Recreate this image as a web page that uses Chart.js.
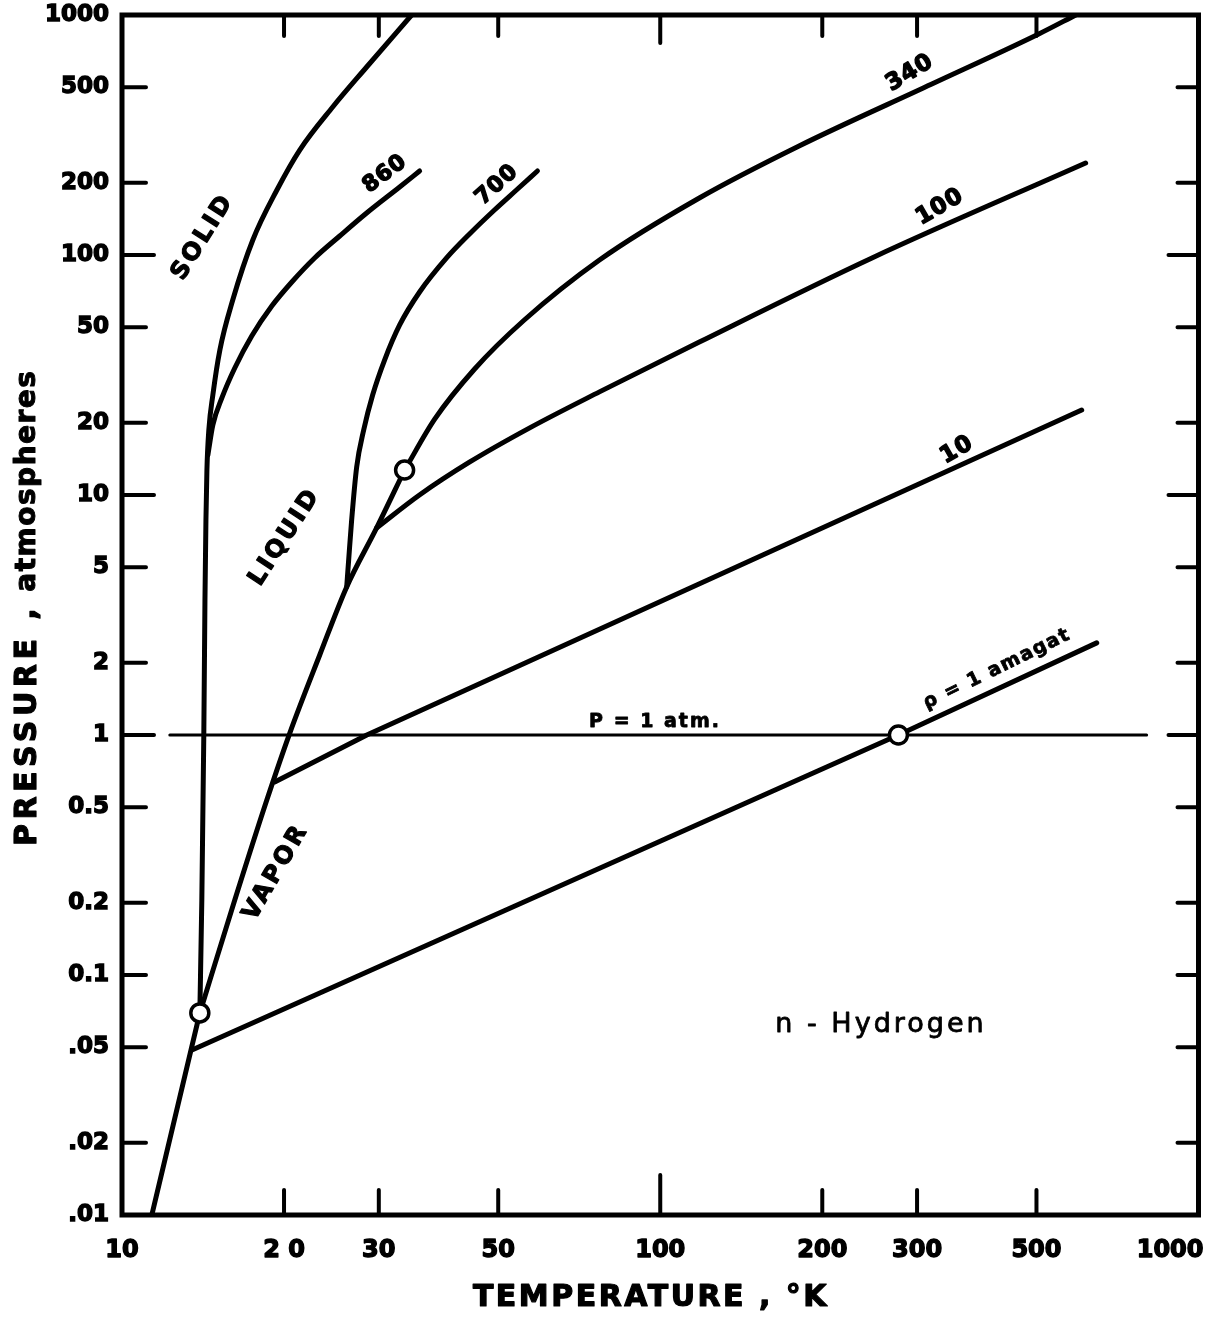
<!DOCTYPE html>
<html>
<head>
<meta charset="utf-8">
<title>n-Hydrogen phase diagram</title>
<script src="https://cdn.jsdelivr.net/npm/chart.js@4.4.1/dist/chart.umd.min.js"></script>
<style>
    html, body { margin: 0; padding: 0; background: #fff; }
    #wrap { width: 1211px; height: 1321px; }
</style>
</head>
<body>
<div id="wrap"><canvas id="phaseChart" width="1211" height="1321"></canvas></div>
<script>
// axis ticks
const tempTicks = [10, 20, 30, 50, 100, 200, 300, 500, 1000];
const tempTickLabels = ['10', '2 0', '30', '50', '100', '200', '300', '500', '1000'];
const pressTicks = [0.01, 0.02, 0.05, 0.1, 0.2, 0.5, 1, 2, 5, 10, 20, 50, 100, 200, 500, 1000];
const pressTickLabels = ['.01', '.02', '.05', '0.1', '0.2', '0.5', '1', '2', '5', '10', '20', '50', '100', '200', '500', '1000'];

// melting curve (solid / liquid), from the triple point up
const meltingT = [13.95, 14.07, 14.19, 14.26, 14.32, 14.38, 14.5, 14.75, 15.2, 16.06, 17.5, 19.4, 21.39, 24.63, 28.48, 34.52];
const meltingP = [0.0695, 0.205, 1, 3.65, 7.87, 12.7, 18.7, 26.1, 40.2, 64.9, 115.5, 186.6, 273.8, 413.7, 607.2, 1000];

// sublimation curve, below the triple point
const sublimT = [11.36, 13.95];
const sublimP = [0.01, 0.0695];

// vapour pressure curve, triple point to critical point
const vaporT = [13.95, 16.2, 18.58, 20.5, 23.3, 26.15, 29.72, 33.5];
const vaporP = [0.0695, 0.2054, 0.536, 1.019, 2.154, 4.14, 7.29, 12.71];

// isochores, density in amagat
const iso860T = [14.44, 14.75, 15.33, 16.2, 17.42, 18.98, 20.68, 22.8, 25.38, 28.48, 32.8, 35.72];
const iso860P = [14.68, 19.57, 25.37, 33.82, 45.97, 61.3, 77.2, 97.2, 120, 149.6, 192, 223.9];

const iso700T = [26.15, 26.37, 26.71, 27.29, 28.12, 29.22, 30.75, 32.8, 35.72, 40.09, 44.22, 49.2, 54.06, 59.13];
const iso700P = [4.14, 5.36, 7.87, 13.08, 18.66, 26.1, 36.5, 51.1, 70.1, 97.2, 122.3, 154, 186.6, 223.9];

const iso340T = [33.5, 38.1, 45.2, 55.9, 77.1, 118.2, 181.1, 319.6, 504.9, 591.3];
const iso340P = [12.7, 20.7, 33.5, 53.6, 95.3, 172.8, 284.6, 515.8, 833.6, 1000];

const iso100T = [29.72, 35.7, 44.2, 57.1, 77.1, 118.2, 247.4, 617];
const iso100P = [7.29, 10.0, 13.7, 19.0, 26.9, 43.4, 97.2, 241.7];

const iso10T = [19.22, 28.5, 606.7];
const iso10P = [0.637, 1.0, 22.6];

const iso1T = [13.49, 277, 647];
const iso1P = [0.0487, 1.0, 2.42];

// P = 1 atm reference line
const atmT = [12.27, 801];
const atmP = [1, 1];

// marked points: triple point, critical point, 1 amagat at 1 atm
const markT = [13.95, 33.5, 277];
const markP = [0.0695, 12.71, 1.0];

function pairs(xs, ys) {
    return xs.map((x, i) => ({ x, y: ys[i] }));
}

function curve(xs, ys, width, smooth) {
    return {
        data: pairs(xs, ys),
        showLine: true,
        borderColor: '#000',
        backgroundColor: '#000',
        borderWidth: width,
        pointRadius: 0,
        tension: smooth ? 0.4 : 0,
        cubicInterpolationMode: smooth ? 'monotone' : 'default',
        borderCapStyle: 'round',
        borderJoinStyle: 'round',
        order: 1,
    };
}

const FONT = '"DejaVu Sans", sans-serif';

// filled text with a thin outline, to get the heavy stencil look
function inkText(ctx, text, x, y, stroke) {
    if (stroke) {
        ctx.lineWidth = stroke;
        ctx.lineJoin = 'round';
        ctx.strokeStyle = '#000';
        ctx.strokeText(text, x, y);
    }
    ctx.fillText(text, x, y);
}

function drawText(ctx, text, x, y, angle, font, spacing, stroke) {
    ctx.save();
    ctx.translate(x, y);
    ctx.rotate(angle * Math.PI / 180);
    ctx.font = font;
    ctx.letterSpacing = spacing || '0px';
    ctx.textAlign = 'center';
    ctx.textBaseline = 'middle';
    ctx.fillStyle = '#000';
    inkText(ctx, text, 0, 0, stroke);
    ctx.restore();
}

const framePlugin = {
    id: 'frame',
    afterDraw(chart) {
        const { ctx, chartArea: a, scales } = chart;
        const xs = scales.x;
        const ys = scales.y;
        ctx.save();
        ctx.strokeStyle = '#000';
        ctx.lineCap = 'round';

        // frame
        ctx.lineWidth = 5;
        ctx.strokeRect(a.left, a.top, a.right - a.left, a.bottom - a.top);

        // inward ticks
        ctx.lineWidth = 4;
        ctx.beginPath();
        pressTicks.slice(1, -1).forEach(v => {
            const y = ys.getPixelForValue(v);
            const major = v === 1 || v === 10 || v === 100;
            ctx.moveTo(a.left, y);
            ctx.lineTo(a.left + (major ? 32 : 24), y);
            ctx.moveTo(a.right, y);
            ctx.lineTo(a.right - (major ? 30 : 21), y);
        });
        tempTicks.slice(1, -1).forEach(v => {
            const x = xs.getPixelForValue(v);
            const major = v === 100;
            ctx.moveTo(x, a.bottom);
            ctx.lineTo(x, a.bottom - (major ? 40 : 25));
            ctx.moveTo(x, a.top);
            ctx.lineTo(x, a.top + (major ? 28 : 21));
        });
        ctx.stroke();

        // x tick labels
        ctx.fillStyle = '#000';
        ctx.font = 'bold 24px ' + FONT;
        ctx.textBaseline = 'middle';
        tempTicks.forEach((v, i) => {
            const last = i === tempTicks.length - 1;
            ctx.textAlign = last ? 'right' : 'center';
            const x = last ? a.right + 5 : xs.getPixelForValue(v);
            inkText(ctx, tempTickLabels[i], x, a.bottom + 36, 1.4);
        });

        // y axis title, capitals set wider than the lower case part
        ctx.translate(28, 846);
        ctx.rotate(-Math.PI / 2);
        ctx.textAlign = 'left';
        ctx.font = 'bold 30px ' + FONT;
        ctx.letterSpacing = '4.5px';
        inkText(ctx, 'PRESSURE ,', 0, 0, 1.2);
        const w = ctx.measureText('PRESSURE ,').width;
        ctx.font = 'bold 28px ' + FONT;
        ctx.letterSpacing = '1.5px';
        inkText(ctx, 'atmospheres', w + 12, 0, 1);
        ctx.restore();

        drawText(ctx, 'TEMPERATURE , °K', 651, 1298, 0, 'bold 30px ' + FONT, '2.5px', 1.2);

        // region and curve labels
        drawText(ctx, 'SOLID', 203, 237, -58, 'bold 24px ' + FONT, '3px', 1.2);
        drawText(ctx, 'LIQUID', 285, 537, -57, 'bold 24px ' + FONT, '3px', 1.2);
        drawText(ctx, 'VAPOR', 276, 872, -60, 'bold 24px ' + FONT, '3px', 1.2);
        drawText(ctx, '860', 385, 174, -37, 'bold 22px ' + FONT, '1px', 1.4);
        drawText(ctx, '700', 497, 185, -42, 'bold 22px ' + FONT, '1px', 1.4);
        drawText(ctx, '340', 910, 73, -31, 'bold 23px ' + FONT, '1px', 1.4);
        drawText(ctx, '100', 940, 207, -30, 'bold 23px ' + FONT, '1px', 1.4);
        drawText(ctx, '10', 957, 450, -30, 'bold 23px ' + FONT, '1px', 1.4);
        drawText(ctx, 'ρ = 1 amagat', 997, 669, -26, 'bold 19px ' + FONT, '1.5px', 0.8);
        drawText(ctx, 'P = 1 atm.', 655, 722, 0, 'bold 19px ' + FONT, '2px', 0.8);
        drawText(ctx, 'n - Hydrogen', 881, 1025, 0, '27px ' + FONT, '3px', 0.8);
    },
};

const datasets = [
    curve(meltingT, meltingP, 5, true),
    curve(sublimT, sublimP, 5, false),
    curve(vaporT, vaporP, 5, true),
    curve(iso860T, iso860P, 5, true),
    curve(iso700T, iso700P, 5, true),
    curve(iso340T, iso340P, 5, true),
    curve(iso100T, iso100P, 5, true),
    curve(iso10T, iso10P, 5, false),
    curve(iso1T, iso1P, 5, false),
    curve(atmT, atmP, 3, false),
    {
        data: pairs(markT, markP),
        showLine: false,
        pointRadius: 9,
        pointBorderWidth: 3.5,
        pointBackgroundColor: '#fff',
        pointBorderColor: '#000',
        order: 0,
    },
];

new Chart(document.getElementById('phaseChart'), {
    type: 'scatter',
    data: { datasets },
    options: {
        responsive: false,
        animation: false,
        devicePixelRatio: 1,
        layout: { padding: { top: 15, right: 11, left: 0, bottom: 0 } },
        plugins: {
            legend: { display: false },
            tooltip: { enabled: false },
        },
        scales: {
            x: {
                type: 'logarithmic',
                position: 'bottom',
                min: 10,
                max: 1000,
                grid: { display: false },
                border: { display: false },
                ticks: { display: false },
                afterBuildTicks(scale) {
                    scale.ticks = tempTicks.map(v => ({ value: v }));
                },
                afterFit(scale) {
                    scale.height = 106;
                    scale.paddingLeft = 0;
                    scale.paddingRight = 0;
                },
            },
            y: {
                type: 'logarithmic',
                position: 'left',
                min: 0.01,
                max: 1000,
                grid: { display: false, drawTicks: false },
                border: { display: false },
                ticks: {
                    autoSkip: false,
                    padding: 13,
                    color: '#000',
                    textStrokeColor: '#000',
                    textStrokeWidth: 1.4,
                    font: { family: FONT, size: 23, weight: 'bold' },
                    callback(value) {
                        const i = pressTicks.indexOf(value);
                        return i >= 0 ? pressTickLabels[i] : '';
                    },
                },
                afterBuildTicks(scale) {
                    scale.ticks = pressTicks.map(v => ({ value: v }));
                },
                afterFit(scale) {
                    scale.width = 122;
                    scale.paddingTop = 0;
                    scale.paddingBottom = 0;
                },
            },
        },
    },
    plugins: [framePlugin],
});
</script>
</body>
</html>
